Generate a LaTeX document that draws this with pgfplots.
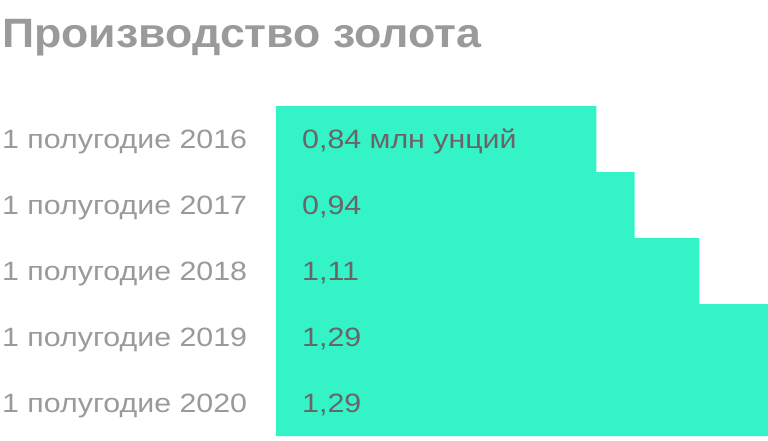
\documentclass[border=0pt]{standalone}
\usepackage{pgfplots}
\pgfplotsset{compat=1.18}
\usepackage{fontspec}
\setmainfont{Liberation Sans}
\newfontfamily\labfont[FakeStretch=1.145]{Liberation Sans}
\newfontfamily\titlefont[FakeStretch=1.09]{Liberation Sans}

\definecolor{barcol}{HTML}{33F3C7}
\definecolor{labgray}{HTML}{9A9A9A}
\definecolor{valgray}{HTML}{6A6468}

\begin{document}
\begin{tikzpicture}[x=1pt,y=1pt]
  % title
  \node[anchor=base west, inner sep=0pt, text=labgray,
        font=\titlefont\fontsize{41}{46}\selectfont\bfseries] at (2,392) {Производство золота};

  \begin{axis}[
      at={(276pt,4pt)}, anchor=south west,
      width=492pt, height=330pt, scale only axis,
      xmin=0, xmax=1.29,
      ymin=-0.5, ymax=4.5,
      y dir=reverse,
      axis line style={draw=none},
      xtick=\empty,
      ytick={0,1,2,3,4},
      yticklabels={1 полугодие 2016,1 полугодие 2017,1 полугодие 2018,1 полугодие 2019,1 полугодие 2020},
      major tick length=0pt,
      yticklabel style={anchor=base west, inner sep=0pt, xshift=-274pt, yshift=-9.5pt,
                        text=labgray, font=\labfont\fontsize{26.5}{30}\selectfont},
      clip=false,
    ]
    \addplot[xbar, bar width=66pt, bar shift=0pt, fill=barcol, draw=none]
      coordinates {(0.84,0) (0.94,1) (1.11,2) (1.29,3) (1.29,4)};
    \addplot[only marks, mark=none, draw=none,
             point meta=explicit symbolic,
             nodes near coords,
             nodes near coords style={anchor=base west, inner sep=0pt, xshift=26pt, yshift=-9.5pt,
                                      text=valgray, font=\labfont\fontsize{26.5}{30}\selectfont}]
      coordinates {(0,0) [0,84 млн унций] (0,1) [0,94] (0,2) [1,11] (0,3) [1,29] (0,4) [1,29]};
  \end{axis}
  \pgfresetboundingbox
  \path (0,0) rectangle (768,440);
\end{tikzpicture}
\end{document}
